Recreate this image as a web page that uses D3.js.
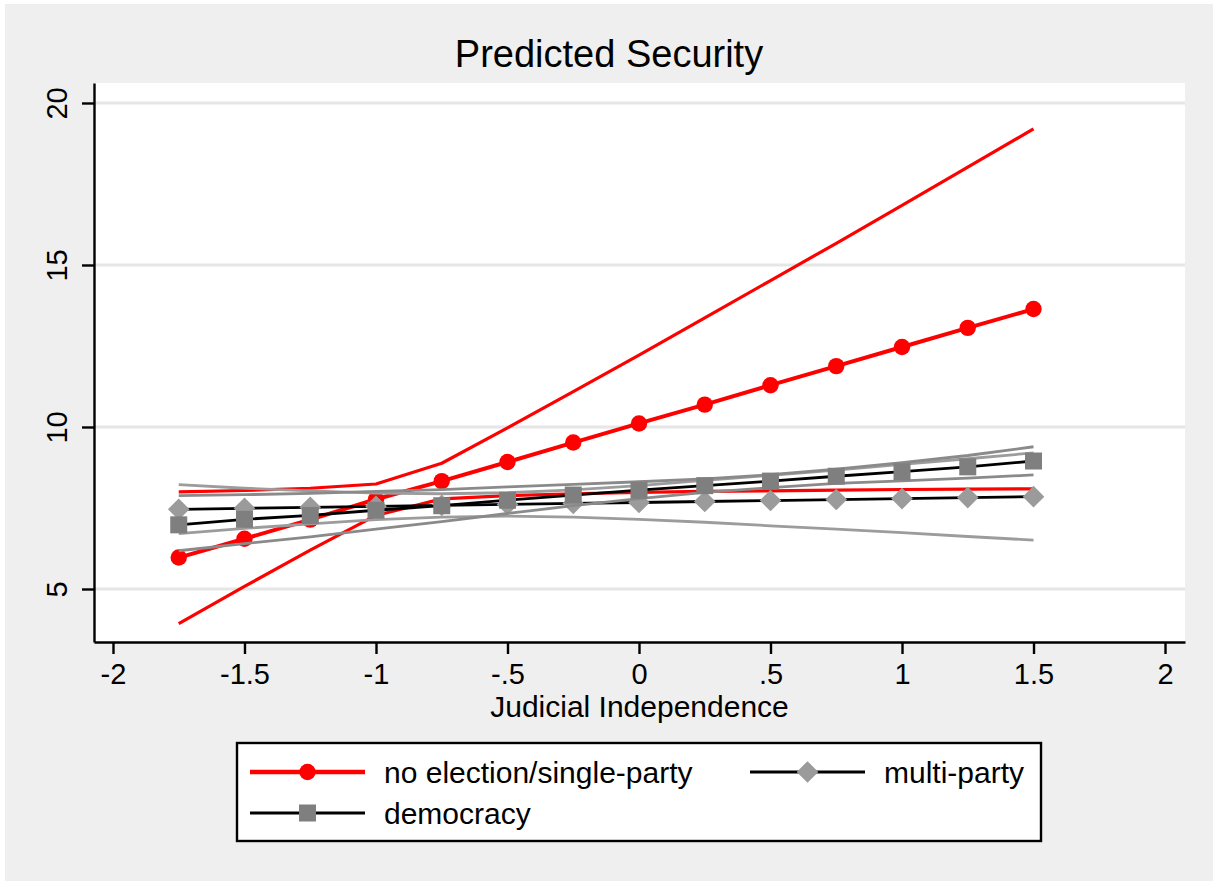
<!DOCTYPE html>
<html>
<head>
<meta charset="utf-8">
<script src="https://cdn.jsdelivr.net/npm/d3@7"></script>
<style>
  html, body { margin: 0; padding: 0; background: #ffffff; }
  svg { display: block; font-family: "Liberation Sans", Arial, sans-serif; }
</style>
</head>
<body>
<svg id="chart" width="1213" height="881"></svg>
<script>
// ---------- data ----------
const xValues = [-1.75, -1.5, -1.25, -1, -0.75, -0.5, -0.25, 0, 0.25, 0.5, 0.75, 1, 1.25, 1.5];

const noElectionMean  = [5.97, 6.55, 7.14, 7.77, 8.33, 8.92, 9.52, 10.11, 10.69, 11.29, 11.88, 12.47, 13.06, 13.64];
const noElectionUpper = [8.00, 8.04, 8.11, 8.24, 8.88, 9.97, 11.09, 12.22, 13.37, 14.52, 15.67, 16.84, 18.02, 19.20];
const noElectionLower = [3.93, 5.08, 6.20, 7.27, 7.78, 7.88, 7.94, 7.98, 8.01, 8.03, 8.05, 8.07, 8.08, 8.09];

const multiPartyMean  = [7.46, 7.49, 7.52, 7.55, 7.58, 7.61, 7.64, 7.67, 7.70, 7.73, 7.76, 7.79, 7.82, 7.85];
const multiPartyUpper = [8.22, 8.11, 8.03, 7.96, 7.94, 7.97, 8.06, 8.19, 8.35, 8.51, 8.67, 8.85, 9.02, 9.20];
const multiPartyLower = [6.71, 6.87, 7.01, 7.14, 7.22, 7.25, 7.22, 7.15, 7.06, 6.95, 6.85, 6.74, 6.62, 6.51];

const democracyMean  = [6.98, 7.15, 7.27, 7.43, 7.57, 7.74, 7.90, 8.05, 8.19, 8.33, 8.48, 8.62, 8.77, 8.95];
const democracyUpper = [7.88, 7.91, 7.95, 8.01, 8.07, 8.15, 8.23, 8.31, 8.40, 8.53, 8.70, 8.90, 9.12, 9.39];
const democracyLower = [6.18, 6.40, 6.61, 6.85, 7.08, 7.33, 7.57, 7.79, 7.98, 8.13, 8.26, 8.34, 8.42, 8.52];

const xTickValues = [-2, -1.5, -1, -0.5, 0, 0.5, 1, 1.5, 2];
const xTickLabels = ["-2", "-1.5", "-1", "-.5", "0", ".5", "1", "1.5", "2"];
const yTickValues = [5, 10, 15, 20];
const yTickLabels = ["5", "10", "15", "20"];

const seriesNames = ["no election/single-party", "multi-party", "democracy"];
const titleText = "Predicted Security";
const xAxisTitle = "Judicial Independence";

// ---------- layout ----------
const W = 1213, H = 881;
const plot = { left: 94, right: 1185, top: 83, bottom: 642 };
const xDomain = [-2.0722, 2.076];
const yDomain = [3.364, 20.617];

const svg = d3.select("#chart");

// backgrounds
svg.append("rect").attr("x", 0).attr("y", 0).attr("width", W).attr("height", H).attr("fill", "#ffffff");
svg.append("rect").attr("x", 5).attr("y", 4).attr("width", W - 5).attr("height", H - 4).attr("fill", "#efefef");
svg.append("rect").attr("x", plot.left).attr("y", plot.top)
  .attr("width", plot.right - plot.left).attr("height", plot.bottom - plot.top).attr("fill", "#ffffff");

const x = d3.scaleLinear().domain(xDomain).range([plot.left, plot.right]);
const y = d3.scaleLinear().domain(yDomain).range([plot.bottom, plot.top]);

// gridlines
svg.append("g").selectAll("line").data(yTickValues).join("line")
  .attr("x1", plot.left).attr("x2", plot.right)
  .attr("y1", d => y(d)).attr("y2", d => y(d))
  .attr("stroke", "#e6e6e6").attr("stroke-width", 2.8);

// series definitions
const series = [
  { name: seriesNames[0], mean: noElectionMean, upper: noElectionUpper, lower: noElectionLower,
    ciColor: "#ff0000", ciWidth: 3.2, lineColor: "#ff0000", lineWidth: 4, marker: "circle", markerColor: "#ff0000" },
  { name: seriesNames[1], mean: multiPartyMean, upper: multiPartyUpper, lower: multiPartyLower,
    ciColor: "#9c9c9c", ciWidth: 2.8, lineColor: "#000000", lineWidth: 2.8, marker: "diamond", markerColor: "#9b9b9b" },
  { name: seriesNames[2], mean: democracyMean, upper: democracyUpper, lower: democracyLower,
    ciColor: "#8a8a8a", ciWidth: 2.8, lineColor: "#000000", lineWidth: 2.8, marker: "square", markerColor: "#7f7f7f" }
];

const line = d3.line().x(d => x(d[0])).y(d => y(d[1]));
const zipped = arr => xValues.map((v, i) => [v, arr[i]]);

function drawMarker(g, type, cx, cy, color) {
  if (type === "circle") {
    g.append("circle").attr("cx", cx).attr("cy", cy).attr("r", 8.2).attr("fill", color);
  } else if (type === "square") {
    g.append("rect").attr("x", cx - 8.5).attr("y", cy - 8.5).attr("width", 17).attr("height", 17).attr("fill", color);
  } else {
    const r = 10.8;
    g.append("path").attr("d", `M${cx},${cy - r}L${cx + r},${cy}L${cx},${cy + r}L${cx - r},${cy}Z`).attr("fill", color);
  }
}

const plotG = svg.append("g");
series.forEach(s => {
  [s.upper, s.lower].forEach(arr => {
    plotG.append("path").datum(zipped(arr)).attr("d", line)
      .attr("fill", "none").attr("stroke", s.ciColor).attr("stroke-width", s.ciWidth)
      .attr("stroke-linejoin", "round");
  });
  plotG.append("path").datum(zipped(s.mean)).attr("d", line)
    .attr("fill", "none").attr("stroke", s.lineColor).attr("stroke-width", s.lineWidth)
    .attr("stroke-linejoin", "round");
  const mg = plotG.append("g");
  zipped(s.mean).forEach(d => drawMarker(mg, s.marker, x(d[0]), y(d[1]), s.markerColor));
});

// axes
const xAxis = d3.axisBottom(x).tickValues(xTickValues)
  .tickFormat((d, i) => xTickLabels[i]).tickSize(12).tickSizeOuter(0).tickPadding(9);
const gx = svg.append("g").attr("transform", `translate(0,${plot.bottom})`).call(xAxis);
gx.select(".domain").attr("stroke", "#000").attr("stroke-width", 2.4);
gx.selectAll(".tick line").attr("stroke", "#000").attr("stroke-width", 2.4);
gx.selectAll(".tick text").attr("font-size", 29).attr("fill", "#000")
  .attr("font-family", "Liberation Sans, Arial, sans-serif");

const yAxis = d3.axisLeft(y).tickValues(yTickValues)
  .tickFormat((d, i) => yTickLabels[i]).tickSize(12).tickSizeOuter(0);
const gy = svg.append("g").attr("transform", `translate(${plot.left},0)`).call(yAxis);
gy.select(".domain").attr("stroke", "#000").attr("stroke-width", 2.4);
gy.selectAll(".tick line").attr("stroke", "#000").attr("stroke-width", 2.4);
gy.selectAll(".tick text").attr("font-size", 29).attr("fill", "#000")
  .attr("font-family", "Liberation Sans, Arial, sans-serif")
  .attr("transform", "rotate(-90)").attr("text-anchor", "middle")
  .attr("x", 0).attr("y", -27).attr("dy", 0);

// titles
svg.append("text").attr("x", 609).attr("y", 67).attr("text-anchor", "middle")
  .attr("font-size", 38).attr("fill", "#000").text(titleText);
svg.append("text").attr("x", (plot.left + plot.right) / 2).attr("y", 717).attr("text-anchor", "middle")
  .attr("font-size", 30).attr("fill", "#000").text(xAxisTitle);

// legend
const legend = svg.append("g");
legend.append("rect").attr("x", 237).attr("y", 743).attr("width", 804).attr("height", 98)
  .attr("fill", "#ffffff").attr("stroke", "#000").attr("stroke-width", 2.4);

const legendItems = [
  { s: series[0], lx: 250, ly: 772 },
  { s: series[1], lx: 750, ly: 772 },
  { s: series[2], lx: 250, ly: 813 }
];
legendItems.forEach(it => {
  legend.append("line").attr("x1", it.lx).attr("x2", it.lx + 115)
    .attr("y1", it.ly).attr("y2", it.ly)
    .attr("stroke", it.s.lineColor).attr("stroke-width", it.s.marker === "circle" ? 4.5 : 2.8);
  drawMarker(legend, it.s.marker, it.lx + 57.5, it.ly, it.s.markerColor);
  legend.append("text").attr("x", it.lx + 134).attr("y", it.ly + 10.5)
    .attr("font-size", 30).attr("fill", "#000").text(it.s.name);
});
</script>
</body>
</html>
